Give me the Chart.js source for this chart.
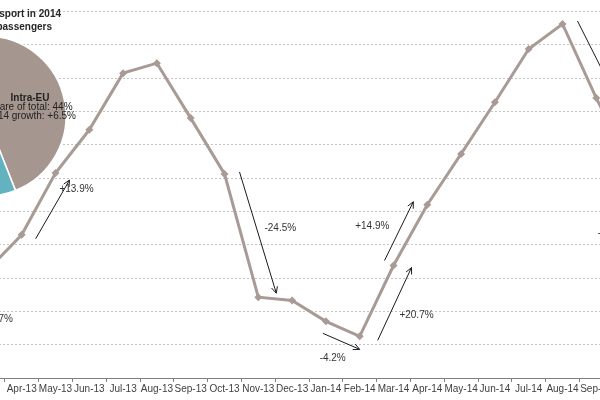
<!DOCTYPE html>
<html lang="en">
<head>
    <meta charset="UTF-8">
    <title>Intra-EU air passengers 2013-2014</title>
    <style>
        body { margin: 0; background: #fff; font-family: "Liberation Sans", Arial, sans-serif; }
        .stage { position: relative; width: 600px; height: 400px; overflow: hidden; }
        #lineWrap { position: absolute; left: -40px; top: 0; }
        #pieWrap { position: absolute; left: -95px; top: 35px; }
    </style>
</head>
<body>
    <div class="stage">
        <div id="lineWrap"><canvas id="lineChart" width="700" height="400"></canvas></div>
        <div id="pieWrap"><canvas id="pieChart" width="200" height="162"></canvas></div>
    </div>
    <script src="https://cdn.jsdelivr.net/npm/chart.js"></script>
    <script>
        // monthly intra-EU passengers (million)
        const months = ['Mar-13', 'Apr-13', 'May-13', 'Jun-13', 'Jul-13', 'Aug-13', 'Sep-13', 'Oct-13', 'Nov-13', 'Dec-13',
                        'Jan-14', 'Feb-14', 'Mar-14', 'Apr-14', 'May-14', 'Jun-14', 'Jul-14', 'Aug-14', 'Sep-14', 'Oct-14'];
        const intraEU = [24.5, 26.6, 30.3, 32.9, 36.3, 36.9, 33.6, 30.25, 22.85, 22.65,
                         21.4, 20.5, 24.75, 28.4, 31.45, 34.55, 37.75, 39.25, 34.8, 30.8];
        const yMin = 18, yMax = 40.45, yStep = 2;

        const pieLabels = ['Intra-EU', 'Extra-EU', 'National'];
        const pieShares = [44, 38, 18];
        const pieText = ['Intra-EU', 'Share of total: 44%', '13/14 growth: +6.5%'];

        const titleLines = ['EU air transport in 2014', 'Million passengers'];

        // growth arrows: offsets in px from the data points
        const notes = [
            { from: 'Apr-13', to: 'May-13', label: '+13.9%', tail: [14, 4], head: [14, 7], text: [21, 16] },
            { from: 'Oct-13', to: 'Nov-13', label: '-24.5%', tail: [15, -2], head: [18, -4], text: [22, -69] },
            { from: 'Jan-14', to: 'Feb-14', label: '-4.2%', tail: [-3, 12], head: [0, 13], text: [-27, 22] },
            { from: 'Mar-14', to: 'Apr-14', label: '+14.9%', tail: [-9, -5], head: [-14, -3], text: [-55, 22] },
            { from: 'Feb-14', to: 'Mar-14', label: '+20.7%', tail: [18, 4], head: [18, 2], text: [23, 50] },
            { from: 'Aug-14', to: 'Sep-14', label: '-11.3%', tail: [15, -3], head: [18, -4], text: [17, 135] },
            { from: null, to: 'Mar-13', label: '+18.7%', text: [8, 50] }
        ];

        const lineColor = '#a89a94';

        const notesPlugin = {
            id: 'notes',
            afterDatasetsDraw(chart) {
                const ctx = chart.ctx;
                const xs = chart.scales.x, ys = chart.scales.y;
                const pt = name => {
                    const i = months.indexOf(name);
                    return [xs.getPixelForValue(i), ys.getPixelForValue(intraEU[i])];
                };
                ctx.save();
                ctx.strokeStyle = '#1a1a1a';
                ctx.fillStyle = '#333';
                ctx.lineWidth = 1;
                ctx.font = '10px "Liberation Sans", Arial, sans-serif';
                ctx.textAlign = 'center';
                ctx.textBaseline = 'middle';
                notes.forEach(n => {
                    const b = pt(n.to);
                    if (n.from) {
                        const a = pt(n.from);
                        const x1 = a[0] + n.tail[0], y1 = a[1] + n.tail[1];
                        const x2 = b[0] + n.head[0], y2 = b[1] + n.head[1];
                        const ang = Math.atan2(y2 - y1, x2 - x1);
                        ctx.beginPath();
                        ctx.moveTo(x1, y1);
                        ctx.lineTo(x2, y2);
                        ctx.moveTo(x2 - 7 * Math.cos(ang - 0.45), y2 - 7 * Math.sin(ang - 0.45));
                        ctx.lineTo(x2, y2);
                        ctx.lineTo(x2 - 7 * Math.cos(ang + 0.45), y2 - 7 * Math.sin(ang + 0.45));
                        ctx.stroke();
                    }
                    ctx.fillText(n.label, b[0] + n.text[0], b[1] + n.text[1]);
                });
                // title, left part is cut off by the frame
                ctx.fillStyle = '#262626';
                ctx.font = 'bold 10px "Liberation Sans", Arial, sans-serif';
                ctx.textAlign = 'right';
                ctx.fillText(titleLines[0], 101, 14);
                ctx.fillText(titleLines[1], 92, 27);
                ctx.restore();
            }
        };

        new Chart(document.getElementById('lineChart').getContext('2d'), {
            type: 'line',
            data: {
                labels: months,
                datasets: [{
                    label: 'Intra-EU passengers',
                    data: intraEU,
                    borderColor: lineColor,
                    backgroundColor: lineColor,
                    borderWidth: 3,
                    pointStyle: 'rectRot',
                    pointRadius: 4,
                    pointBorderWidth: 0,
                    tension: 0
                }]
            },
            options: {
                responsive: false,
                animation: false,
                devicePixelRatio: 1,
                layout: { padding: { left: 11, right: 13, top: 0, bottom: 0 } },
                plugins: { legend: { display: false }, tooltip: { enabled: false } },
                scales: {
                    x: {
                        offset: true,
                        grid: { offset: true, drawOnChartArea: false, drawTicks: true, tickLength: 4, color: '#808080' },
                        border: { display: true, color: '#808080' },
                        ticks: {
                            autoSkip: false, maxRotation: 0, padding: 1, color: '#404040',
                            font: { family: '"Liberation Sans", Arial, sans-serif', size: 10 },
                            // first month sits outside the frame, its label is not shown
                            callback: (v, i) => i === 0 ? '' : months[i]
                        },
                        afterFit(scale) { scale.height = 22; }
                    },
                    y: {
                        min: yMin,
                        max: yMax,
                        ticks: { display: false, stepSize: yStep, includeBounds: false },
                        grid: { color: '#c4c4c4', drawTicks: false },
                        border: { display: false, dash: [2, 2] },
                        afterFit(scale) { scale.width = 0; }
                    }
                }
            },
            plugins: [notesPlugin]
        });

        const pieTextPlugin = {
            id: 'pieText',
            afterDraw(chart) {
                const ctx = chart.ctx;
                ctx.save();
                ctx.fillStyle = '#222';
                ctx.textAlign = 'center';
                ctx.textBaseline = 'middle';
                ctx.font = 'bold 10px "Liberation Sans", Arial, sans-serif';
                ctx.fillText(pieText[0], 125, 63);
                ctx.font = '10px "Liberation Sans", Arial, sans-serif';
                ctx.fillText(pieText[1], 125, 72);
                ctx.fillText(pieText[2], 125, 81);
                ctx.restore();
            }
        };

        new Chart(document.getElementById('pieChart').getContext('2d'), {
            type: 'pie',
            data: {
                labels: pieLabels,
                datasets: [{
                    data: pieShares,
                    backgroundColor: ['#a5978f', '#62b3bf', '#3f6f8c'],
                    borderColor: '#fff',
                    borderWidth: 1.5
                }]
            },
            options: {
                responsive: false,
                animation: false,
                devicePixelRatio: 1,
                radius: 80,
                layout: { padding: { left: 0, right: 38, top: 0, bottom: 0 } },
                plugins: { legend: { display: false }, tooltip: { enabled: false } }
            },
            plugins: [pieTextPlugin]
        });
    </script>
</body>
</html>
